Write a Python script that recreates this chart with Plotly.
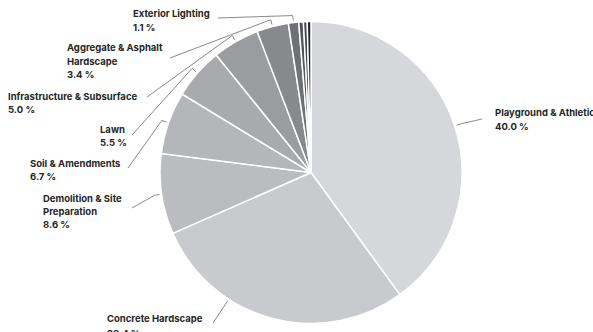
import math
import plotly.graph_objects as go

# Budget share by work package (percent)
categories = [
    "Playground & Athletic",
    "Concrete Hardscape",
    "Demolition & Site Preparation",
    "Soil & Amendments",
    "Lawn",
    "Infrastructure & Subsurface",
    "Aggregate & Asphalt Hardscape",
    "Exterior Lighting",
    "Site Furnishings",
    "Fencing",
    "Signage",
]
shares = [40.0, 28.4, 8.6, 6.7, 5.5, 5.0, 3.4, 1.1, 0.5, 0.4, 0.4]
label_lines = [
    ["Playground & Athletic"],
    ["Concrete Hardscape"],
    ["Demolition & Site", "Preparation"],
    ["Soil & Amendments"],
    ["Lawn"],
    ["Infrastructure & Subsurface"],
    ["Aggregate & Asphalt", "Hardscape"],
    ["Exterior Lighting"],
    None,
    None,
    None,
]
colors = ["#d6d7db", "#c9cace", "#bbbcc0", "#b5b6ba", "#a9aaae", "#9b9ca0",
          "#88898d", "#6f7074", "#56575b", "#414246", "#242528"]

W, H = 593, 332
CX, CY, R = 311.0, 172.5, 151.0

# Label placement: text left x, first text line y, leader end point, and where
# along the slice (0..1) the leader starts.
label_layout = {
    0: dict(tx=493, ty=113, end=(482, 119), frac=0.5),
    1: dict(tx=105, ty=318.5, end=(213, 323), frac=0.675),
    2: dict(tx=41, ty=198, end=(132, 208), frac=0.5),
    3: dict(tx=28, ty=163, end=(128, 168), frac=0.5),
    4: dict(tx=98, ty=129, end=(132, 135), frac=0.5),
    5: dict(tx=6, ty=96, end=(147, 97), frac=0.5),
    6: dict(tx=65, ty=48, end=(170, 58), frac=0.5),
    7: dict(tx=131, ty=14, end=(218, 18), frac=0.5),
}
LINE_STEP = 13.0

fig = go.Figure()
fig.add_trace(go.Pie(
    labels=categories,
    values=shares,
    sort=False,
    direction="clockwise",
    rotation=0,
    marker=dict(colors=colors, line=dict(color="white", width=1.5)),
    textinfo="none",
    hoverinfo="label+percent",
    showlegend=False,
    domain=dict(x=[(CX - R) / W, (CX + R) / W],
                y=[1 - (CY + R) / H, 1 - (CY - R) / H]),
))

# Invisible pixel-space axes used for leader lines and label text
fig.add_trace(go.Scatter(x=[0, W], y=[0, H], mode="markers",
                         marker=dict(opacity=0), hoverinfo="skip",
                         showlegend=False))

total = sum(shares)
cum = 0.0
annotations = []
for i, v in enumerate(shares):
    start, cum = cum, cum + v
    if label_lines[i] is None:
        continue
    lay = label_layout[i]
    f = (start + lay["frac"] * v) / total
    th = 2 * math.pi * f
    sx, sy = math.sin(th), -math.cos(th)
    ax_, ay_ = CX + (R + 2) * sx, CY + (R + 2) * sy
    bx_, by_ = CX + (R + 7) * sx, CY + (R + 7) * sy
    ex, ey = lay["end"]
    fig.add_trace(go.Scatter(x=[ax_, bx_, ex], y=[ay_, by_, ey], mode="lines",
                             line=dict(color="#8a8a8a", width=1),
                             hoverinfo="skip", showlegend=False))
    lines = label_lines[i] + [f"{v:.1f} %"]
    for k, txt in enumerate(lines):
        annotations.append(dict(
            x=lay["tx"], y=min(lay["ty"] + k * LINE_STEP, H - 0.5),
            xref="x", yref="y",
            text=txt, showarrow=False, xanchor="left",
            yanchor="middle" if lay["ty"] + k * LINE_STEP < H - 4 else "top",
            yshift=0 if lay["ty"] + k * LINE_STEP < H - 4 else 6,
            font=dict(family="Inter", size=9.5, color="#262626", weight=700),
        ))

fig.update_layout(
    width=W, height=H,
    margin=dict(l=0, r=0, t=0, b=0),
    paper_bgcolor="white", plot_bgcolor="rgba(0,0,0,0)",
    xaxis=dict(range=[0, W], visible=False, fixedrange=True),
    yaxis=dict(range=[H, 0], visible=False, fixedrange=True),
    annotations=annotations,
)

fig.write_html("out.html")
